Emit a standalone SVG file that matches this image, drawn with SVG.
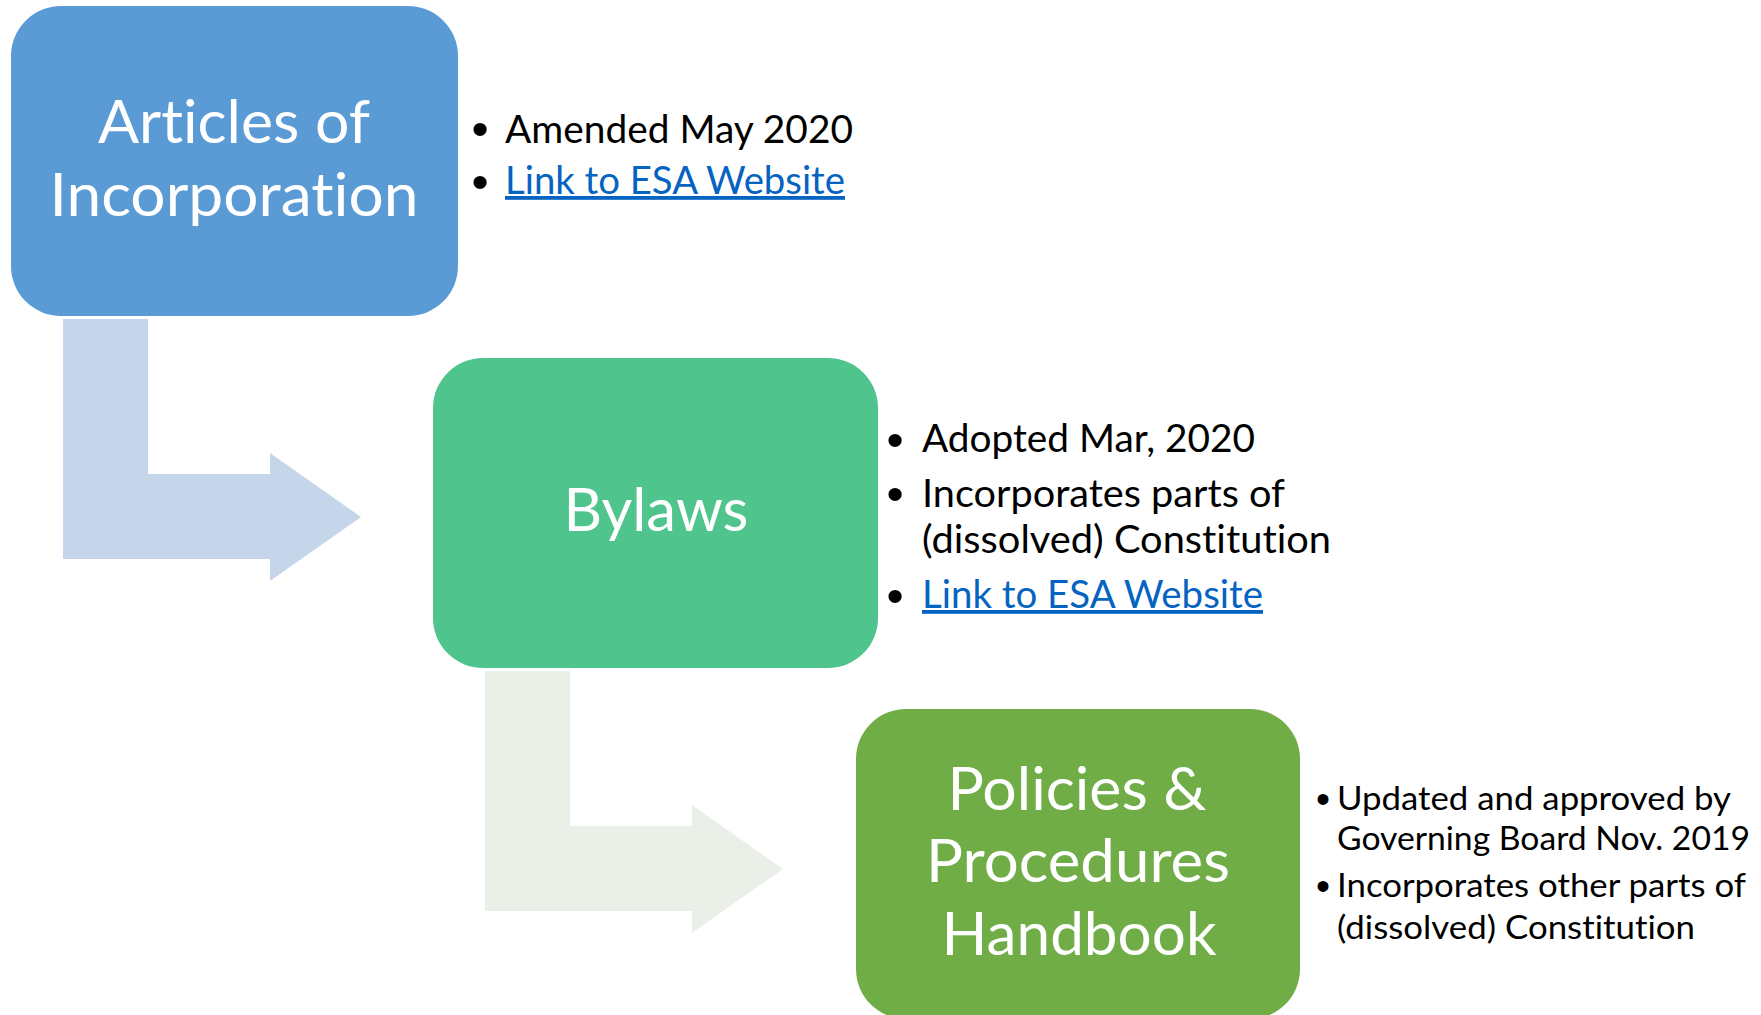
<svg xmlns="http://www.w3.org/2000/svg" width="1761" height="1015" viewBox="0 0 1761 1015">
<style>
text{font-variant-ligatures:none;font-feature-settings:"liga" 0}
.box-label{font-family:Lato,"Liberation Sans",sans-serif;font-size:60px;fill:#FFFFFF;text-anchor:middle}
.bul{font-family:Lato,"Liberation Sans",sans-serif;font-size:38px;fill:#000000}
.bul-s{font-family:Lato,"Liberation Sans",sans-serif;font-size:33px;fill:#000000}
.dot{font-family:"Liberation Sans",Arial,sans-serif;font-size:49px;fill:#000000;text-anchor:middle}
.dot-s{font-family:"Liberation Sans",Arial,sans-serif;font-size:40px;fill:#000000;text-anchor:middle}
.link{fill:#0563C1;text-decoration:underline}
</style>
<rect width="1761" height="1015" fill="#FFFFFF"/>
<g id="connectors">
<polygon points="63,319 148,319 148,474 270,474 270,453 361,517 270,581 270,559 63,559" fill="#C5D5EA"/>
<polygon points="485,671 570,671 570,826 692,826 692,805 783,869 692,933 692,911 485,911" fill="#EAEFE8"/>
</g>
<g id="node-articles">
<rect x="11" y="6" width="447" height="310" rx="50" ry="50" fill="#5B9BD5"/>
<text class="box-label" x="234" y="143" textLength="272" lengthAdjust="spacingAndGlyphs">Articles of</text>
<text class="box-label" x="234" y="216" textLength="369" lengthAdjust="spacingAndGlyphs">Incorporation</text>
</g>
<g id="notes-articles">
<text class="dot" x="480" y="144.6">•</text>
<text class="bul" x="505" y="142.7" textLength="348" lengthAdjust="spacingAndGlyphs">Amended May 2020</text>
<text class="dot" x="480" y="198.3">•</text>
<text class="bul link" x="505" y="194" textLength="340" lengthAdjust="spacingAndGlyphs">Link to ESA Website</text>
</g>
<g id="node-bylaws">
<rect x="433" y="358" width="445" height="310" rx="50" ry="50" fill="#4FC48D"/>
<text class="box-label" x="656" y="531" textLength="185" lengthAdjust="spacingAndGlyphs">Bylaws</text>
</g>
<g id="notes-bylaws">
<text class="dot" x="895" y="455.6">•</text>
<text class="bul" x="922" y="452" textLength="333" lengthAdjust="spacingAndGlyphs">Adopted Mar, 2020</text>
<text class="dot" x="895" y="509.6">•</text>
<text class="bul" x="922" y="507" textLength="363" lengthAdjust="spacingAndGlyphs">Incorporates parts of</text>
<text class="bul" x="922" y="553" textLength="409" lengthAdjust="spacingAndGlyphs">(dissolved) Constitution</text>
<text class="dot" x="895" y="611.6">•</text>
<text class="bul link" x="922" y="608" textLength="341" lengthAdjust="spacingAndGlyphs">Link to ESA Website</text>
</g>
<g id="node-policies">
<rect x="856" y="709" width="444" height="310" rx="50" ry="50" fill="#70AD47"/>
<text class="box-label" x="1077" y="810" textLength="259" lengthAdjust="spacingAndGlyphs">Policies &amp;</text>
<text class="box-label" x="1078" y="882" textLength="304" lengthAdjust="spacingAndGlyphs">Procedures</text>
<text class="box-label" x="1079" y="955" textLength="275" lengthAdjust="spacingAndGlyphs">Handbook</text>
</g>
<g id="notes-policies">
<text class="dot-s" x="1323" y="812.6">•</text>
<text class="bul-s" x="1337" y="810" textLength="394" lengthAdjust="spacingAndGlyphs">Updated and approved by</text>
<text class="bul-s" x="1337" y="850" textLength="413" lengthAdjust="spacingAndGlyphs">Governing Board Nov. 2019</text>
<text class="dot-s" x="1323" y="899.6">•</text>
<text class="bul-s" x="1337" y="897" textLength="409" lengthAdjust="spacingAndGlyphs">Incorporates other parts of</text>
<text class="bul-s" x="1337" y="939" textLength="358" lengthAdjust="spacingAndGlyphs">(dissolved) Constitution</text>
</g>
</svg>
